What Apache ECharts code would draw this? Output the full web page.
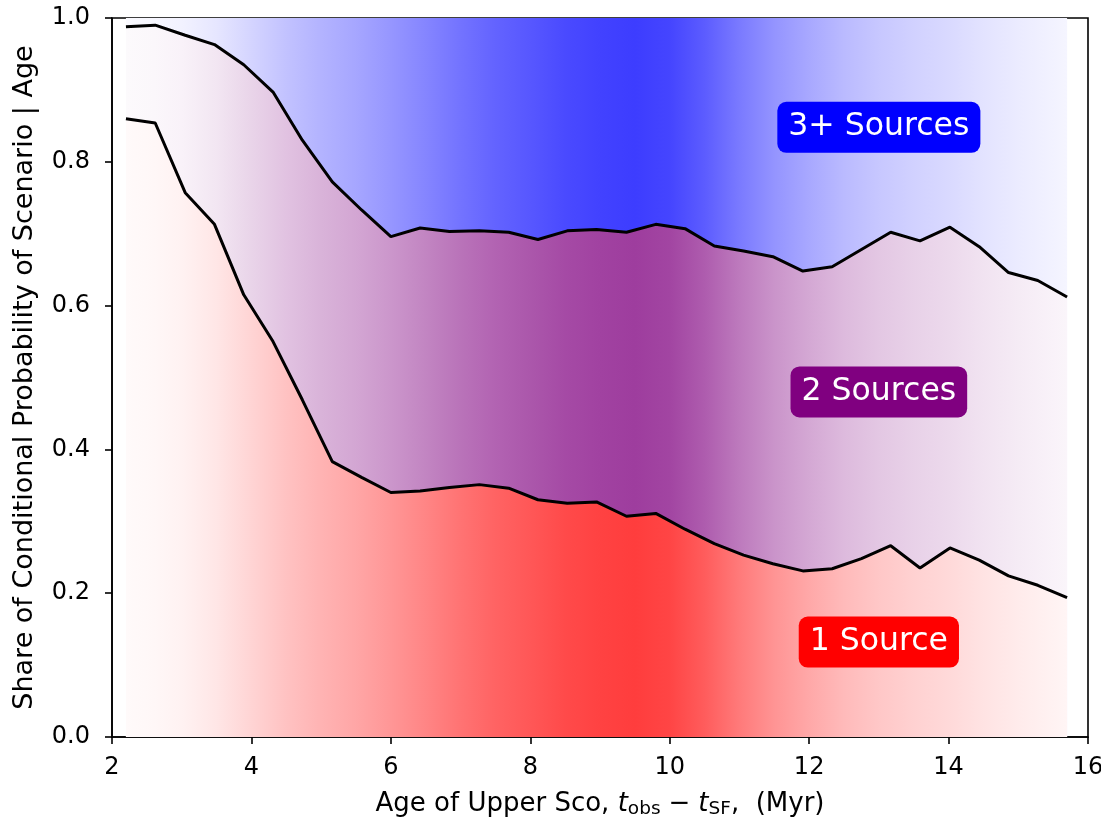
<!DOCTYPE html>
<html>
<head>
<meta charset="utf-8">
<script src="https://cdn.jsdelivr.net/npm/echarts@6/dist/echarts.min.js"></script>
<style>
  html, body { margin: 0; padding: 0; background: #ffffff; }
  #chart { width: 1101px; height: 824px; }
</style>
</head>
<body>
<div id="chart"></div>
<script>
// Age grid (Myr) on which the scenario shares were evaluated
const ages = [2.20, 2.62, 3.05, 3.47, 3.89, 4.31, 4.73, 5.16, 5.58, 6.00, 6.42,
  6.84, 7.27, 7.69, 8.11, 8.53, 8.95, 9.38, 9.80, 10.22, 10.64, 11.06, 11.48,
  11.91, 12.33, 12.75, 13.17, 13.59, 14.02, 14.44, 14.86, 15.28, 15.70];

// Cumulative share: single source
const shareOne = [0.860, 0.854, 0.757, 0.713, 0.615, 0.550, 0.469, 0.383, 0.361,
  0.340, 0.342, 0.347, 0.351, 0.346, 0.330, 0.325, 0.327, 0.307, 0.311, 0.289,
  0.269, 0.253, 0.241, 0.231, 0.234, 0.248, 0.266, 0.235, 0.263, 0.246, 0.224,
  0.211, 0.194];

// Cumulative share: one or two sources
const shareUpToTwo = [0.988, 0.990, 0.976, 0.963, 0.935, 0.897, 0.830, 0.772,
  0.733, 0.696, 0.708, 0.703, 0.704, 0.702, 0.692, 0.704, 0.706, 0.702, 0.713,
  0.707, 0.683, 0.676, 0.668, 0.648, 0.654, 0.678, 0.702, 0.690, 0.709, 0.682,
  0.646, 0.635, 0.612];

// Relative weight of each age (shading strength of the bands)
const weightAges = [2.2, 2.6, 3.0, 3.5, 4.0, 4.5, 5.0, 5.5, 6.0, 6.5, 7.0, 7.5,
  8.0, 8.5, 9.0, 9.5, 10.0, 10.5, 11.0, 11.5, 12.0, 12.5, 13.0, 13.5, 14.0,
  14.5, 15.0, 15.5, 15.7];
const weightAlpha = [0.02, 0.03, 0.05, 0.10, 0.17, 0.24, 0.30, 0.35, 0.41, 0.48,
  0.55, 0.61, 0.66, 0.71, 0.74, 0.76, 0.73, 0.64, 0.52, 0.42, 0.34, 0.27, 0.22,
  0.18, 0.15, 0.11, 0.08, 0.05, 0.04];

// Scenario names and their colours
const scenarios = ['1 Source', '2 Sources', '3+ Sources'];
const scenarioColors = [[255, 0, 0], [128, 0, 128], [0, 0, 255]];
// Label anchor points [age, share]
const labelPos = [[13.0, 0.132], [13.0, 0.480], [13.0, 0.848]];

const FONT = 'DejaVu Sans';

// Horizontal gradient: colour blended over white by the age weight
function bandGradient(rgb) {
  const x0 = ages[0], x1 = ages[ages.length - 1];
  const stops = weightAges.map((a, i) => {
    const w = weightAlpha[i];
    const c = rgb.map(v => Math.round(255 - w * (255 - v)));
    return {
      offset: Math.min(1, Math.max(0, (a - x0) / (x1 - x0))),
      color: 'rgb(' + c.join(',') + ')'
    };
  });
  return new echarts.graphic.LinearGradient(0, 0, 1, 0, stops);
}

const pair = arr => ages.map((a, i) => [a, arr[i]]);

const chart = echarts.init(document.getElementById('chart'), null, { renderer: 'canvas' });

chart.setOption({
  animation: false,
  backgroundColor: '#ffffff',
  textStyle: { fontFamily: FONT },
  grid: {
    left: 112, right: 13, top: 18, bottom: 87,
    outerBoundsMode: 'none', containLabel: false,
    show: true, borderColor: '#000', borderWidth: 1.6, backgroundColor: 'transparent'
  },
  xAxis: {
    type: 'value', min: 2, max: 16, interval: 2,
    axisLine: { show: true, onZero: false, lineStyle: { color: '#000', width: 1.6 } },
    axisTick: { show: true, inside: false, length: 7, lineStyle: { color: '#000', width: 1.6 } },
    axisLabel: { color: '#000', fontSize: 24, fontFamily: FONT, margin: 19 },
    splitLine: { show: false },
    name: '{n|Age of Upper Sco, }{i|t}{s|obs}{m|−}{i|t}{s|SF}{n|,  (Myr)}',
    nameLocation: 'middle', nameGap: 52,
    nameTextStyle: {
      color: '#000', fontFamily: FONT,
      rich: {
        n: { fontSize: 26, fontFamily: FONT, color: '#000', lineHeight: 30, verticalAlign: 'middle' },
        m: { fontSize: 26, fontFamily: FONT, color: '#000', lineHeight: 30, verticalAlign: 'middle', padding: [0, 8, 0, 8] },
        i: { fontSize: 26, fontFamily: FONT, fontStyle: 'italic', color: '#000', lineHeight: 30, verticalAlign: 'middle' },
        s: { fontSize: 18.5, fontFamily: FONT, color: '#000', lineHeight: 18, verticalAlign: 'bottom' }
      }
    }
  },
  yAxis: {
    type: 'value', min: 0, max: 1, interval: 0.2,
    axisLine: { show: true, lineStyle: { color: '#000', width: 1.6 } },
    axisTick: { show: true, inside: false, length: 7, lineStyle: { color: '#000', width: 1.6 } },
    axisLabel: {
      color: '#000', fontSize: 24, fontFamily: FONT, margin: 22,
      formatter: v => v.toFixed(1)
    },
    splitLine: { show: false },
    name: 'Share of Conditional Probability of Scenario | Age',
    nameLocation: 'middle', nameGap: 74,
    nameTextStyle: { color: '#000', fontSize: 27, fontFamily: FONT }
  },
  series: [
    {
      // whole column: 3+ sources shows above the two-source boundary
      type: 'line', name: scenarios[2],
      data: pair(ages.map(() => 1)),
      symbol: 'none', lineStyle: { width: 0 },
      areaStyle: { color: bandGradient(scenarioColors[2]), opacity: 1 },
      z: 1
    },
    {
      type: 'line', name: scenarios[1],
      data: pair(shareUpToTwo),
      symbol: 'none', lineStyle: { color: '#000', width: 3 },
      areaStyle: { color: bandGradient(scenarioColors[1]), opacity: 1 },
      z: 2
    },
    {
      type: 'line', name: scenarios[0],
      data: pair(shareOne),
      symbol: 'none', lineStyle: { color: '#000', width: 3 },
      areaStyle: { color: bandGradient(scenarioColors[0]), opacity: 1 },
      z: 3
    },
    {
      type: 'scatter', symbolSize: 0, z: 5, silent: true,
      itemStyle: { opacity: 1 },
      data: labelPos.map((p, i) => ({
        value: p,
        label: {
          show: true, position: 'inside',
          formatter: scenarios[i],
          color: '#fff', fontSize: 31.5, fontFamily: FONT, opacity: 1,
          backgroundColor: 'rgb(' + scenarioColors[i].join(',') + ')',
          borderRadius: 9, padding: [8, 11, 6, 11], lineHeight: 37
        }
      }))
    }
  ]
});
</script>
</body>
</html>
